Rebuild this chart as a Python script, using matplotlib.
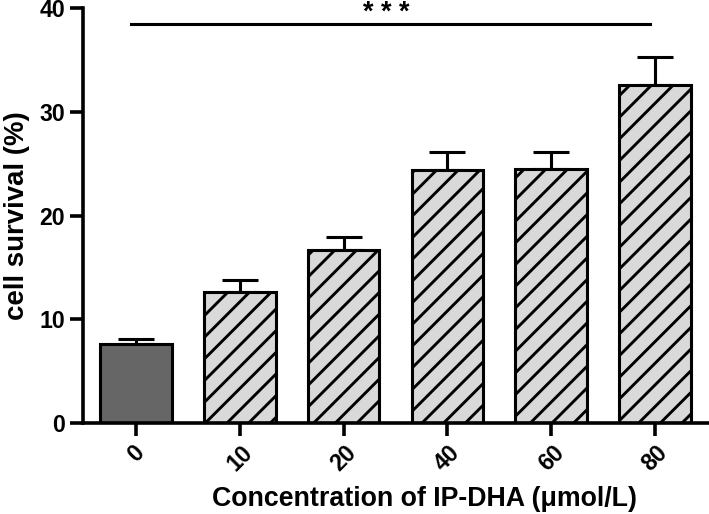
import matplotlib.pyplot as plt
import numpy as np

plt.rcParams['font.family'] = ['Liberation Sans', 'DejaVu Sans']
plt.rcParams['font.weight'] = 'bold'
plt.rcParams['hatch.linewidth'] = 1.6

concentrations = ["0", "10", "20", "40", "60", "80"]
survival = [7.6, 12.6, 16.7, 24.4, 24.5, 32.6]
survival_err = [0.55, 1.15, 1.2, 1.75, 1.65, 2.7]
bar_colors = ["#666666", "#d9d9d9", "#d9d9d9", "#d9d9d9", "#d9d9d9", "#d9d9d9"]
bar_hatches = ["", "//", "//", "//", "//", "//"]

DPI = 130
fig = plt.figure(figsize=(709 / DPI, 514 / DPI), dpi=DPI)
ax = fig.add_axes([0.117, 0.177, 0.883, 0.807])

x = np.arange(len(concentrations))

ax.errorbar(x, survival, yerr=[np.zeros(len(x)), survival_err], fmt='none',
            ecolor='black', elinewidth=1.7, capsize=10, capthick=1.7, zorder=1)
bars = ax.bar(x, survival, width=0.69, color=bar_colors, edgecolor='black',
              linewidth=1.7, zorder=2)
for b, h in zip(bars, bar_hatches):
    b.set_hatch(h)

# significance line
ax.plot([-0.05, 4.95], [38.45, 38.45], color='black', lw=1.7, clip_on=False)
ax.text(2.41, 40.75, "* * *", ha='center', va='top', fontsize=15,
        fontweight='bold', clip_on=False)

ax.set_xlim(-0.51, 5.52)
ax.set_ylim(0, 40)
ax.set_yticks([0, 10, 20, 30, 40])
ax.set_xticks(x)
ax.set_xticklabels(concentrations, rotation=45, ha='center', va='top',
                   fontsize=12.8, fontweight='bold')
for lbl in ax.get_yticklabels():
    lbl.set_fontsize(12.8)
    lbl.set_fontweight('bold')

ax.spines['top'].set_visible(False)
ax.spines['right'].set_visible(False)
ax.spines['left'].set_linewidth(2)
ax.spines['bottom'].set_linewidth(2)
ax.tick_params(axis='both', direction='out', length=7, width=2, pad=3)

ax.set_xlabel("Concentration of IP-DHA (μmol/L)", fontsize=14.8,
              fontweight='bold', labelpad=6, x=0.546)
ax.set_ylabel("cell survival (%)", fontsize=15.3, fontweight='bold',
              labelpad=5)

fig.savefig("out.png", dpi=DPI)
